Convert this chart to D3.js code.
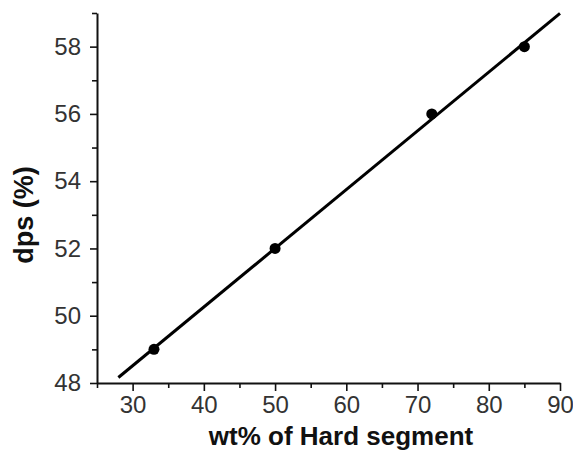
<!DOCTYPE html>
<html>
<head>
<meta charset="utf-8">
<script src="https://cdn.jsdelivr.net/npm/d3@7"></script>
<style>
  body { margin: 0; background: #fff; }
  text { font-family: "Liberation Sans", Arial, sans-serif; }
</style>
</head>
<body>
<svg id="chart" width="573" height="450"></svg>
<script>
// data
var hardSegment = [33, 50, 72, 85];
var dps = [49, 52, 56, 58];
var fitRange = [28, 90];   // where the fitted line starts and ends
var xTicks = [30, 40, 50, 60, 70, 80, 90];
var xMinor = [25, 35, 45, 55, 65, 75, 85];
var yTicks = [48, 50, 52, 54, 56, 58];
var yMinor = [49, 51, 53, 55, 57, 59];

var svg = d3.select("#chart");

var plotLeft = 97, plotRight = 560, plotTop = 13, plotBottom = 383;

var x = d3.scaleLinear().domain([25, 90]).range([plotLeft, plotRight]);
var y = d3.scaleLinear().domain([48, 59]).range([plotBottom, plotTop]);

// linear fit through the points
var mx = d3.mean(hardSegment), my = d3.mean(dps);
var sxy = d3.sum(hardSegment, function(d, i) { return (d - mx) * (dps[i] - my); });
var sxx = d3.sum(hardSegment, function(d) { return (d - mx) * (d - mx); });
var slope = sxy / sxx;
var icpt = my - slope * mx;

// minor ticks first
svg.append("g")
    .attr("transform", "translate(0," + plotBottom + ")")
    .call(d3.axisBottom(x).tickValues(xMinor).tickSize(5).tickFormat("").tickSizeOuter(0))
    .call(function(g) { g.select(".domain").remove(); });
svg.append("g")
    .attr("transform", "translate(" + plotLeft + ",0)")
    .call(d3.axisLeft(y).tickValues(yMinor).tickSize(5).tickFormat("").tickSizeOuter(0))
    .call(function(g) { g.select(".domain").remove(); });

var xAxis = svg.append("g")
    .attr("transform", "translate(0," + plotBottom + ")")
    .call(d3.axisBottom(x).tickValues(xTicks).tickSize(8).tickPadding(5).tickSizeOuter(0));

var yAxis = svg.append("g")
    .attr("transform", "translate(" + plotLeft + ",0)")
    .call(d3.axisLeft(y).tickValues(yTicks).tickSize(7).tickPadding(9).tickSizeOuter(0));

[xAxis, yAxis].forEach(function(g) {
  g.selectAll("text")
    .attr("font-family", "Liberation Sans, Arial, sans-serif")
    .attr("font-size", "24px")
    .attr("fill", "#333");
});

svg.selectAll(".tick line").attr("stroke", "#111").attr("stroke-width", 1.6);
svg.selectAll(".domain").attr("stroke", "#111").attr("stroke-width", 2);

// fitted line
svg.append("path")
    .datum(fitRange)
    .attr("fill", "none")
    .attr("stroke", "#000")
    .attr("stroke-width", 3)
    .attr("d", d3.line()
        .x(function(d) { return x(d); })
        .y(function(d) { return y(slope * d + icpt); }));

// points
svg.selectAll(".pt")
    .data(hardSegment)
    .enter()
    .append("circle")
    .attr("class", "pt")
    .attr("cx", function(d) { return x(d); })
    .attr("cy", function(d, i) { return y(dps[i]); })
    .attr("r", 5.5)
    .attr("fill", "#000");

// axis titles
svg.append("text")
    .attr("x", 341)
    .attr("y", 445)
    .attr("text-anchor", "middle")
    .attr("font-weight", "bold")
    .attr("font-size", "26px")
    .attr("fill", "#111")
    .text("wt% of Hard segment");

svg.append("text")
    .attr("transform", "translate(33,215) rotate(-90)")
    .attr("text-anchor", "middle")
    .attr("font-weight", "bold")
    .attr("font-size", "27px")
    .attr("fill", "#111")
    .text("dps (%)");
</script>
</body>
</html>
